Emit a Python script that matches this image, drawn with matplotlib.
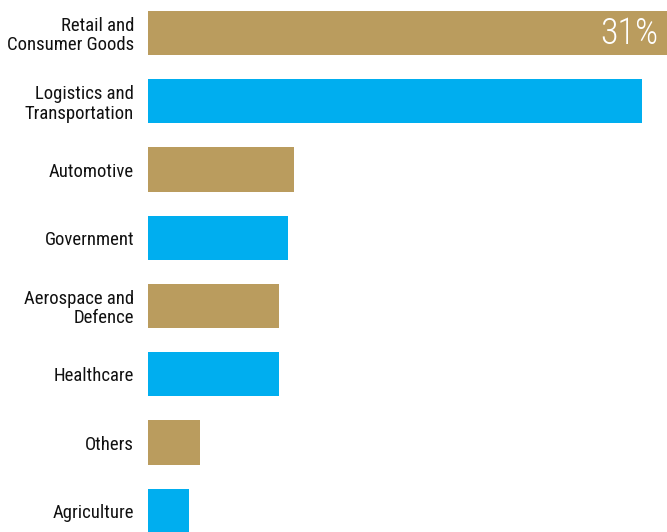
import matplotlib
matplotlib.use("Agg")
import matplotlib.pyplot as plt
from matplotlib import font_manager

categories = ["Retail and\nConsumer Goods", "Logistics and\nTransportation", "Automotive",
              "Government", "Aerospace and\nDefence", "Healthcare", "Others", "Agriculture"]
values = [31, 29.5, 8.7, 8.35, 7.8, 7.8, 3.1, 2.45]
colors = ["#BA9C5E", "#00AEEF"] * 4
value_label = "31%"

names = {f.name for f in font_manager.fontManager.ttflist}
fam = [f for f in ["Roboto Condensed", "Liberation Sans Narrow", "Roboto"] if f in names] + ["DejaVu Sans"]
plt.rcParams['font.family'] = fam

fig = plt.figure(figsize=(6.67, 5.32), dpi=100)
ax = fig.add_axes([148/667, 0, 519/667, 1])
pos = list(range(len(categories)))
ax.barh(pos, values, height=0.65, color=colors)
ax.set_xlim(0, 31)
ax.set_ylim(7.31, -0.483)
ax.set_yticks(pos)
ax.set_yticklabels(categories, fontsize=13.5, color="#111111", linespacing=1.1)
ax.tick_params(axis='y', length=0, pad=10)
ax.set_xticks([])
for s in ax.spines.values():
    s.set_visible(False)
ax.text(values[0] - 0.5, 0.02, value_label, ha="right", va="center", color="white",
        fontsize=26, fontweight="light")
fig.savefig("out.png", dpi=100)
